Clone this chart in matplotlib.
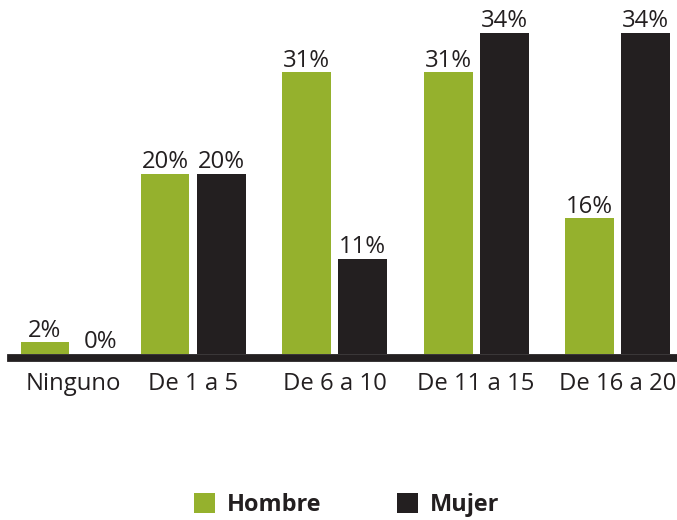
import matplotlib
matplotlib.use("Agg")
import matplotlib.pyplot as plt
import numpy as np
from matplotlib.patches import Patch

categories = ["Ninguno", "De 1 a 5", "De 6 a 10", "De 11 a 15", "De 16 a 20"]
series_names = ["Hombre", "Mujer"]
hombre = [1.3, 20.0, 31.3, 31.3, 15.1]
mujer = [0.0, 20.0, 10.6, 35.7, 35.7]
hombre_labels = ["2%", "20%", "31%", "31%", "16%"]
mujer_labels = ["0%", "20%", "11%", "34%", "34%"]

GREEN = "#95b12d"
DARK = "#231f20"
FONT = ["Open Sans", "DejaVu Sans"]
plt.rcParams["font.family"] = FONT

fig = plt.figure(figsize=(6.77, 5.2), dpi=100)
ax = fig.add_axes([0, 0, 1, 1])
ax.set_xlim(-0.364, 4.42)
ax.set_ylim(-18.44, 39.33)
ax.axis("off")

x = np.arange(len(categories), dtype=float)
x[0] += 0.152
w = 0.346
off = 0.198

b1 = ax.bar(x - off, hombre, w, color=GREEN, zorder=2)
b2 = ax.bar(x + off, mujer, w, color=DARK, zorder=2)

for bars, labels in ((b1, hombre_labels), (b2, mujer_labels)):
    for rect, lab in zip(bars, labels):
        ax.annotate(lab, (rect.get_x() + rect.get_width() / 2, rect.get_height()),
                    xytext=(0, 4), textcoords="offset points",
                    ha="center", va="baseline", fontsize=17.2, color=DARK)

# baseline
ax.axhline(-0.44, xmin=11 / 677, xmax=1.0, color=DARK, lw=5.6, zorder=3)

for xi, cat in zip(x, categories):
    ax.text(xi, -3.3, cat, ha="center", va="center", fontsize=17.2, color=DARK)

handles = [Patch(facecolor=GREEN), Patch(facecolor=DARK)]
leg = fig.legend(handles, series_names, loc="center", bbox_to_anchor=(0.512, 0.029),
                 ncol=2, frameon=False, handlelength=0.9, handleheight=0.9,
                 handletextpad=0.5, columnspacing=3.2,
                 prop={"family": FONT, "weight": "bold", "size": 16.9})
for t in leg.get_texts():
    t.set_color(DARK)

fig.savefig("out.png", dpi=100)
